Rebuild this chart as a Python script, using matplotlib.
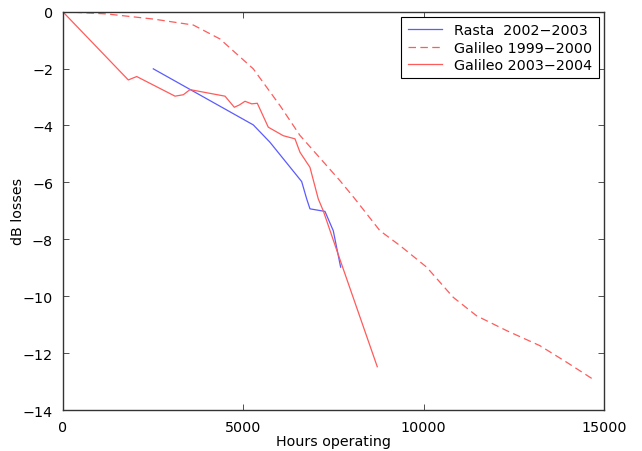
import matplotlib
matplotlib.use("Agg")
import matplotlib.pyplot as plt

plt.rcParams["font.family"] = ["DejaVu Sans"]

# Rasta 2002-2003
rasta_h = [2510, 5280, 5742, 6620, 6759, 6850, 7266, 7496, 7700]
rasta_db = [-2.01, -3.98, -4.59, -5.97, -6.58, -6.93, -7.02, -7.70, -8.98]

# Galileo 1999-2000 (dashed)
gal99_h = [0, 1218, 2510, 3618, 4357, 5280, 6019, 6573, 7681, 8096, 8789,
           9343, 10083, 10820, 11468, 12299, 13222, 13960, 14681]
gal99_db = [0, -0.08, -0.26, -0.47, -0.96, -2.01, -3.30, -4.35, -5.94, -6.58,
            -7.70, -8.22, -8.98, -10.04, -10.69, -11.21, -11.74, -12.32, -12.91]

# Galileo 2003-2004
gal03_h = [0, 1817, 2050, 3111, 3341, 3526, 4496, 4754, 4893, 5050, 5235,
           5391, 5695, 6111, 6435, 6573, 6850, 7080, 7219, 7607, 8715]
gal03_db = [0, -2.40, -2.28, -2.97, -2.92, -2.74, -2.97, -3.36, -3.28, -3.15,
            -3.24, -3.22, -4.06, -4.36, -4.47, -4.94, -5.47, -6.58, -7.0,
            -8.44, -12.48]

BLUE = "#5b5bff"
RED = "#ff5b5b"
FS = 10.3

fig = plt.figure(figsize=(6.42, 4.52), dpi=100)
ax = fig.add_axes([0.0977, 0.0907, 0.8433, 0.8813])

ax.plot(rasta_h, rasta_db, color=BLUE, lw=0.9, label="Rasta  2002\u22122003")
ax.plot(gal99_h, gal99_db, color=RED, lw=0.9, dashes=(6, 3.5),
        label="Galileo 1999\u22122000")
ax.plot(gal03_h, gal03_db, color=RED, lw=0.9, label="Galileo 2003\u22122004")

ax.set_xlim(0, 15000)
ax.set_ylim(-14, 0)
ax.set_xticks([0, 5000, 10000, 15000])
ax.set_yticks(range(-14, 1, 2))
ax.tick_params(direction="in", top=True, right=True, labelsize=FS,
               length=4, width=0.6, color="#333333", pad=7)
for s in ax.spines.values():
    s.set_edgecolor("#333333")
    s.set_linewidth(1.0)

ax.set_xlabel("Hours operating", fontsize=FS, labelpad=0)
ax.set_ylabel("dB losses", fontsize=FS)
ax.yaxis.set_label_coords(-0.069, 0.5)

leg = ax.legend(loc="upper right", fontsize=FS, fancybox=False,
                framealpha=1, edgecolor="black", handlelength=2.4,
                borderaxespad=0.37, labelspacing=0.22, borderpad=0.45,
                handletextpad=0.85)
leg.get_frame().set_linewidth(0.8)

fig.savefig("out.png", dpi=100)
